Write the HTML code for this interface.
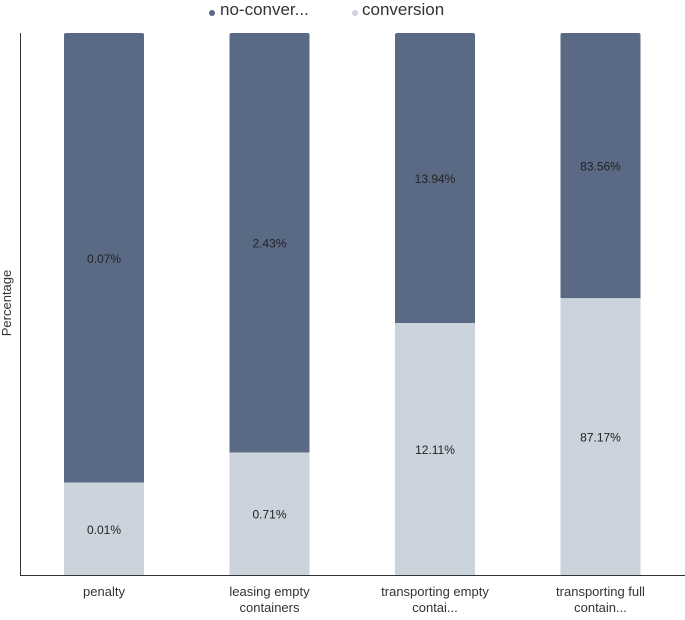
<!DOCTYPE html>
<html><head><meta charset="utf-8"><style>
body{margin:0;background:#fff;font-family:"Liberation Sans",sans-serif;}
</style></head><body>
<svg id="c" width="685" height="615" xmlns="http://www.w3.org/2000/svg">
<g>
<circle cx="212" cy="13" r="3" fill="#5a6a85"/>
<text x="220" y="15" font-size="17" fill="#333">no-conver...</text>
<circle cx="355" cy="13" r="3" fill="#cbd3dc"/>
<text x="362" y="15" font-size="17" fill="#333">conversion</text>
</g>
<line x1="20.5" y1="33" x2="20.5" y2="575" stroke="#333"/>
<line x1="20" y1="575.5" x2="685" y2="575.5" stroke="#333"/>
<text transform="translate(11,303) rotate(-90)" text-anchor="middle" font-size="13" fill="#333">Percentage</text>
<g id="bars"></g>
</svg>
<script>
const categories=[["penalty"],["leasing empty","containers"],["transporting empty","contai..."],["transporting full","contain..."]];
const conversion=[0.0145,0.71,12.11,87.17];
const noConversion=[0.0705,2.43,13.94,83.56];
const NS="http://www.w3.org/2000/svg";
const g=document.getElementById('bars');
const top0=33,bot=575,x0=20,step=165.5,bw=80;
function y(f){return bot-f*(bot-top0);}
function bx(i){return 64+i*step;}
function mk(t,a){const e=document.createElementNS(NS,t);for(const k in a)e.setAttribute(k,a[k]);g.appendChild(e);return e;}
categories.forEach((c,i)=>{
 const tot=conversion[i]+noConversion[i];
 const f=conversion[i]/tot;
 const x=bx(i);
 const r1=mk('path',{d:`M${x},${bot} V${top0+2} q0,-2 2,-2 H${x+bw-2} q2,0 2,2 V${y(f)} H${x} Z`,fill:'#5a6a85'});
 
 
 const r2=mk('rect',{x:x,y:y(f),width:bw,height:bot-y(f),fill:'#cbd3dc'});
 
 
 const t1=mk('text',{x:x+bw/2,y:(top0+y(f))/2+5,'text-anchor':'middle','font-size':'12',fill:'#222'});
 t1.textContent=noConversion[i].toFixed(2)+'%';
 
 
 const t2=mk('text',{x:x+bw/2,y:(y(f)+bot)/2+5,'text-anchor':'middle','font-size':'12',fill:'#222'});
 t2.textContent=conversion[i].toFixed(2)+'%';
 
 
 c.forEach((line,j)=>{
  const t=mk('text',{x:x+bw/2,y:596+j*16,'text-anchor':'middle','font-size':'13',fill:'#333'});
  t.textContent=line;
  
  
 });
});
</script>
</body></html>
